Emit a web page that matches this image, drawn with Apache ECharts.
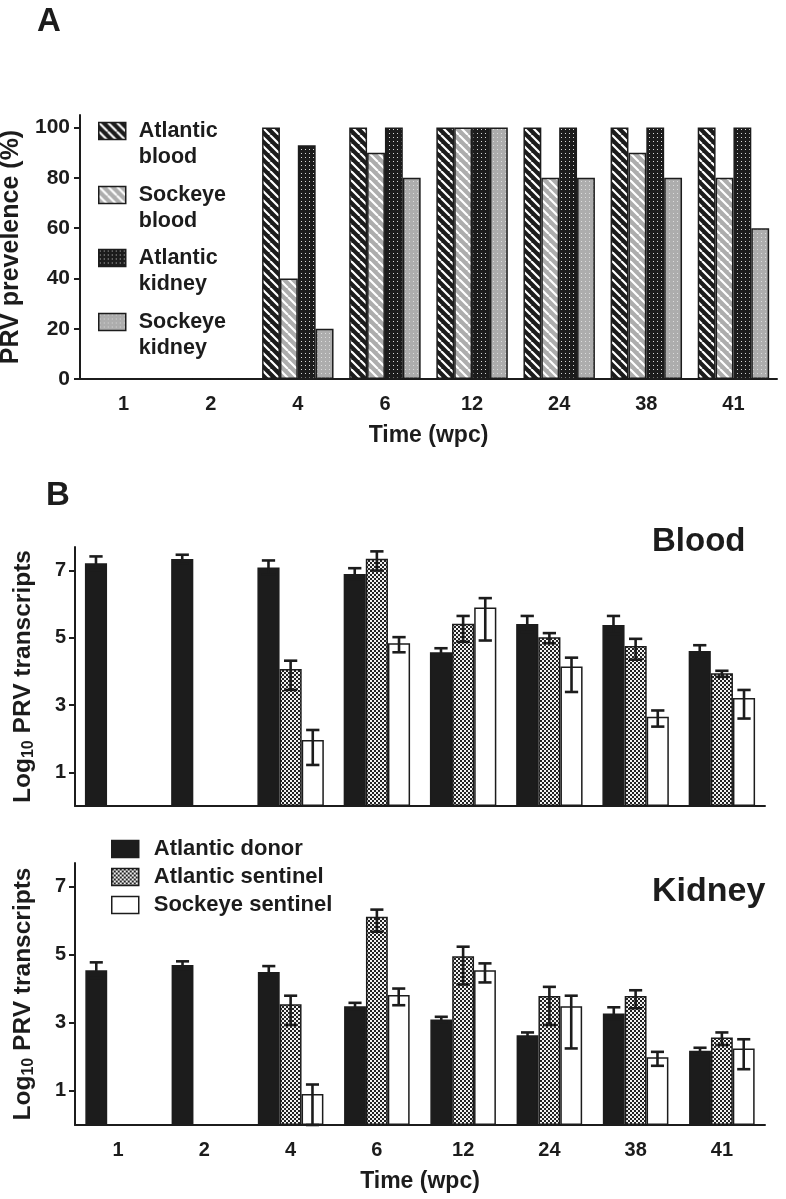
<!DOCTYPE html>
<html><head><meta charset="utf-8">
<script src="https://cdn.jsdelivr.net/npm/echarts@6/dist/echarts.min.js"></script>
<style>html,body{margin:0;padding:0;background:#fff}#c{width:786px;height:1199px}</style>
</head><body><div id="c"></div>
<script>
// ---------- DATA ----------
const weeks = ['1', '2', '4', '6', '12', '24', '38', '41'];
const prevTicks = [0, 20, 40, 60, 80, 100];
const logTicks = [1, 3, 5, 7];

// Panel A: PRV prevalence (%)
const atlanticBloodPrev = [0, 0, 100, 100, 100, 100, 100, 100];
const sockeyeBloodPrev  = [0, 0, 40, 90, 100, 80, 90, 80];
const atlanticKidneyPrev = [0, 0, 93, 100, 100, 100, 100, 100];
const sockeyeKidneyPrev  = [0, 0, 20, 80, 100, 80, 80, 60];

// Panel B Blood: mean, upper and lower error bounds (log10 transcripts)
const donorBlood   = [7.22, 7.34, 7.09, 6.90, 4.57, 5.41, 5.38, 4.61];
const donorBloodHi = [7.42, 7.47, 7.30, 7.07, 4.69, 5.65, 5.65, 4.78];
const donorBloodLo = [7.02, 7.21, 6.88, 6.73, 4.45, 5.17, 5.11, 4.44];
const sentBlood    = [null, null, 4.07, 7.35, 5.42, 5.02, 4.76, 3.95];
const sentBloodHi  = [null, null, 4.32, 7.57, 5.65, 5.14, 4.97, 4.02];
const sentBloodLo  = [null, null, 3.45, 7.00, 4.88, 4.84, 4.35, 3.84];
const sockBlood    = [null, null, 1.96, 4.84, 5.90, 4.15, 2.65, 3.21];
const sockBloodHi  = [null, null, 2.26, 5.02, 6.18, 4.41, 2.84, 3.45];
const sockBloodLo  = [null, null, 1.22, 4.57, 4.92, 3.39, 2.36, 2.60];

// Panel B Kidney
const donorKidney   = [4.55, 4.70, 4.50, 3.49, 3.10, 2.64, 3.28, 2.18];
const donorKidneyHi = [4.78, 4.81, 4.67, 3.59, 3.18, 2.72, 3.46, 2.27];
const donorKidneyLo = [4.32, 4.59, 4.33, 3.39, 3.02, 2.56, 3.10, 2.09];
const sentKidney    = [null, null, 3.55, 6.12, 4.96, 3.79, 3.79, 2.57];
const sentKidneyHi  = [null, null, 3.80, 6.33, 5.24, 4.06, 3.96, 2.72];
const sentKidneyLo  = [null, null, 2.94, 5.68, 4.13, 2.94, 3.43, 2.35];
const sockKidney    = [null, null, 0.91, 3.82, 4.55, 3.49, 1.99, 2.25];
const sockKidneyHi  = [null, null, 1.19, 4.01, 4.75, 3.80, 2.15, 2.52];
const sockKidneyLo  = [null, null, 0.00, 3.52, 4.19, 2.25, 1.74, 1.64];

// ---------- STYLE ----------
const FONT = '"Liberation Sans", Arial, Helvetica, sans-serif';
const INK = '#1c1c1c';
const GRAY = '#adadad';

function tile(w, h, draw) {
  const c = document.createElement('canvas');
  c.width = w; c.height = h;
  draw(c.getContext('2d'), w, h);
  return { image: c, repeat: 'repeat' };
}
function stripes(bg) {
  return tile(9, 9, (g, s) => {
    g.fillStyle = bg; g.fillRect(0, 0, s, s);
    g.strokeStyle = '#ffffff'; g.lineWidth = 2.2; g.beginPath();
    for (const k of [-s, 0, s]) { g.moveTo(k, 0); g.lineTo(k + s, s); }
    g.stroke();
  });
}
function dots(bg, dc) {
  return tile(4, 4, (g) => {
    g.fillStyle = bg; g.fillRect(0, 0, 4, 4);
    g.fillStyle = dc; g.fillRect(1, 1, 1, 1);
  });
}
function checker() {
  return tile(4, 4, (g) => {
    g.fillStyle = '#f2f2f2'; g.fillRect(0, 0, 4, 4);
    g.fillStyle = '#222222'; g.fillRect(0, 0, 2, 2); g.fillRect(2, 2, 2, 2);
  });
}

const boldText = (size) => ({ fontSize: size, fontWeight: 'bold', color: INK, fontFamily: FONT });
const axisLine = { lineStyle: { color: INK, width: 2 } };

function xAxis(grid, showLabels, name) {
  return {
    type: 'category', gridIndex: grid, data: weeks,
    axisLine: axisLine,
    axisTick: { alignWithLabel: true, length: 7, lineStyle: { color: INK, width: 2 } },
    axisLabel: Object.assign({ show: showLabels, margin: 15 }, boldText(20)),
    name: name, nameLocation: 'middle', nameGap: 45,
    nameTextStyle: boldText(23)
  };
}
function yAxis(grid, min, max, ticks, name, nameGap, labelMargin, labelSize) {
  return {
    type: 'value', gridIndex: grid, min: min, max: max,
    axisLine: Object.assign({ show: true }, axisLine),
    axisTick: { show: true, length: 6, customValues: ticks, lineStyle: { color: INK, width: 2 } },
    axisLabel: Object.assign({ margin: labelMargin, customValues: ticks }, boldText(labelSize)),
    splitLine: { show: false },
    name: name, nameLocation: 'middle', nameGap: nameGap, nameRotate: 90,
    nameTextStyle: Object.assign({
      rich: {
        a: Object.assign({ lineHeight: 28 }, boldText(24.5)),
        s: Object.assign({ verticalAlign: 'bottom', lineHeight: 16 }, boldText(16))
      }
    }, boldText(25))
  };
}

const borderStyle = { borderColor: INK, borderWidth: 1.5 };
function bar(name, data, axis, fill, gap) {
  return {
    type: 'bar', name: name, data: data, xAxisIndex: axis, yAxisIndex: axis,
    barGap: '0%', barCategoryGap: gap,
    itemStyle: Object.assign({ color: fill }, borderStyle),
    silent: true
  };
}
function errBars(axis, lo, hi, idx, n, gapFrac) {
  const data = [];
  weeks.forEach((w, i) => { if (hi[i] != null) data.push([i, lo[i], hi[i]]); });
  return {
    type: 'custom', xAxisIndex: axis, yAxisIndex: axis, z: 5, silent: true,
    data: data, encode: { x: 0, y: [1, 2] },
    renderItem(params, api) {
      const i = api.value(0);
      const band = api.size([1, 0])[0];
      const total = band * (1 - gapFrac);
      const bw = total / n;
      const x = api.coord([i, 0])[0] - total / 2 + bw * (idx + 0.5);
      const yl = api.coord([i, api.value(1)])[1];
      const yh = api.coord([i, api.value(2)])[1];
      const cap = bw * 0.3;
      const st = { stroke: INK, lineWidth: 2.6 };
      return { type: 'group', children: [
        { type: 'line', shape: { x1: x, y1: yl, x2: x, y2: yh }, style: st },
        { type: 'line', shape: { x1: x - cap, y1: yh, x2: x + cap, y2: yh }, style: st },
        { type: 'line', shape: { x1: x - cap, y1: yl, x2: x + cap, y2: yl }, style: st }
      ] };
    }
  };
}

const fills = {
  atlBlood: stripes(INK),
  sockBlood: stripes(GRAY),
  atlKidney: dots(INK, '#d8d8d8'),
  sockKidney: dots(GRAY, '#dcdcdc'),
  donor: INK,
  sentinel: checker(),
  sockeye: '#ffffff'
};

const gapA = 0.18, gapBl = 0.23, gapK = 0.24;
const pct = (f) => Math.round(f * 100) + '%';

// legend item of panel A: a blank first line keeps the first word level with the swatch
function legendA(name, yc) {
  return {
    data: [name], left: 98, top: yc - 39, orient: 'vertical', padding: 0,
    itemWidth: 27, itemHeight: 17, icon: 'rect', selectedMode: false,
    formatter: (n) => ' \n' + n,
    itemStyle: { borderColor: INK, borderWidth: 1.5 },
    textStyle: Object.assign({ lineHeight: 26, padding: [0, 0, 0, 8] }, boldText(21.5))
  };
}

const option = {
  animation: false,
  backgroundColor: '#ffffff',
  textStyle: { fontFamily: FONT },
  title: [
    { text: 'A', left: 37, top: 5, padding: 0, textStyle: boldText(33) },
    { text: 'B', left: 46, top: 479, padding: 0, textStyle: boldText(33) },
    { text: 'Blood', left: 652, top: 525, padding: 0, textStyle: boldText(33) },
    { text: 'Kidney', left: 652, top: 875, padding: 0, textStyle: boldText(34) }
  ],
  grid: [
    { left: 80, top: 115, width: 697, height: 264, outerBoundsMode: 'none', containLabel: false },
    { left: 75, top: 547, width: 690, height: 259, outerBoundsMode: 'none', containLabel: false },
    { left: 75, top: 863, width: 690, height: 262, outerBoundsMode: 'none', containLabel: false }
  ],
  legend: [
    legendA('Atlantic\nblood', 131),
    legendA('Sockeye\nblood', 195),
    legendA('Atlantic\nkidney', 258),
    legendA('Sockeye\nkidney', 322),
    {
      data: ['Atlantic donor', 'Atlantic sentinel', 'Sockeye sentinel'],
      left: 111, top: 838, orient: 'vertical', padding: 0, itemGap: 6,
      itemWidth: 27, itemHeight: 17, icon: 'rect', selectedMode: false,
      itemStyle: { borderColor: INK, borderWidth: 1.5 },
      textStyle: Object.assign({ padding: [0, 0, 0, 10] }, boldText(22))
    }
  ],
  xAxis: [
    xAxis(0, true, 'Time (wpc)'),
    xAxis(1, false, ''),
    xAxis(2, true, 'Time (wpc)')
  ],
  yAxis: [
    yAxis(0, 0, 105, prevTicks, 'PRV prevelence (%)', 50, 10, 21),
    yAxis(1, 0, 7.7, logTicks, '{a|Log}{s|10}{a| PRV transcripts}', 38, 9, 20),
    yAxis(2, 0, 7.7, logTicks, '{a|Log}{s|10}{a| PRV transcripts}', 38, 9, 20)
  ],
  series: [
    bar('Atlantic\nblood', atlanticBloodPrev, 0, fills.atlBlood, pct(gapA)),
    bar('Sockeye\nblood', sockeyeBloodPrev, 0, fills.sockBlood, pct(gapA)),
    bar('Atlantic\nkidney', atlanticKidneyPrev, 0, fills.atlKidney, pct(gapA)),
    bar('Sockeye\nkidney', sockeyeKidneyPrev, 0, fills.sockKidney, pct(gapA)),

    bar('Atlantic donor', donorBlood, 1, fills.donor, pct(gapBl)),
    bar('Atlantic sentinel', sentBlood, 1, fills.sentinel, pct(gapBl)),
    bar('Sockeye sentinel', sockBlood, 1, fills.sockeye, pct(gapBl)),
    errBars(1, donorBloodLo, donorBloodHi, 0, 3, gapBl),
    errBars(1, sentBloodLo, sentBloodHi, 1, 3, gapBl),
    errBars(1, sockBloodLo, sockBloodHi, 2, 3, gapBl),

    bar('Atlantic donor', donorKidney, 2, fills.donor, pct(gapK)),
    bar('Atlantic sentinel', sentKidney, 2, fills.sentinel, pct(gapK)),
    bar('Sockeye sentinel', sockKidney, 2, fills.sockeye, pct(gapK)),
    errBars(2, donorKidneyLo, donorKidneyHi, 0, 3, gapK),
    errBars(2, sentKidneyLo, sentKidneyHi, 1, 3, gapK),
    errBars(2, sockKidneyLo, sockKidneyHi, 2, 3, gapK)
  ]
};

const chart = echarts.init(document.getElementById('c'), null, { renderer: 'canvas' });
chart.setOption(option);
</script>
</body></html>
